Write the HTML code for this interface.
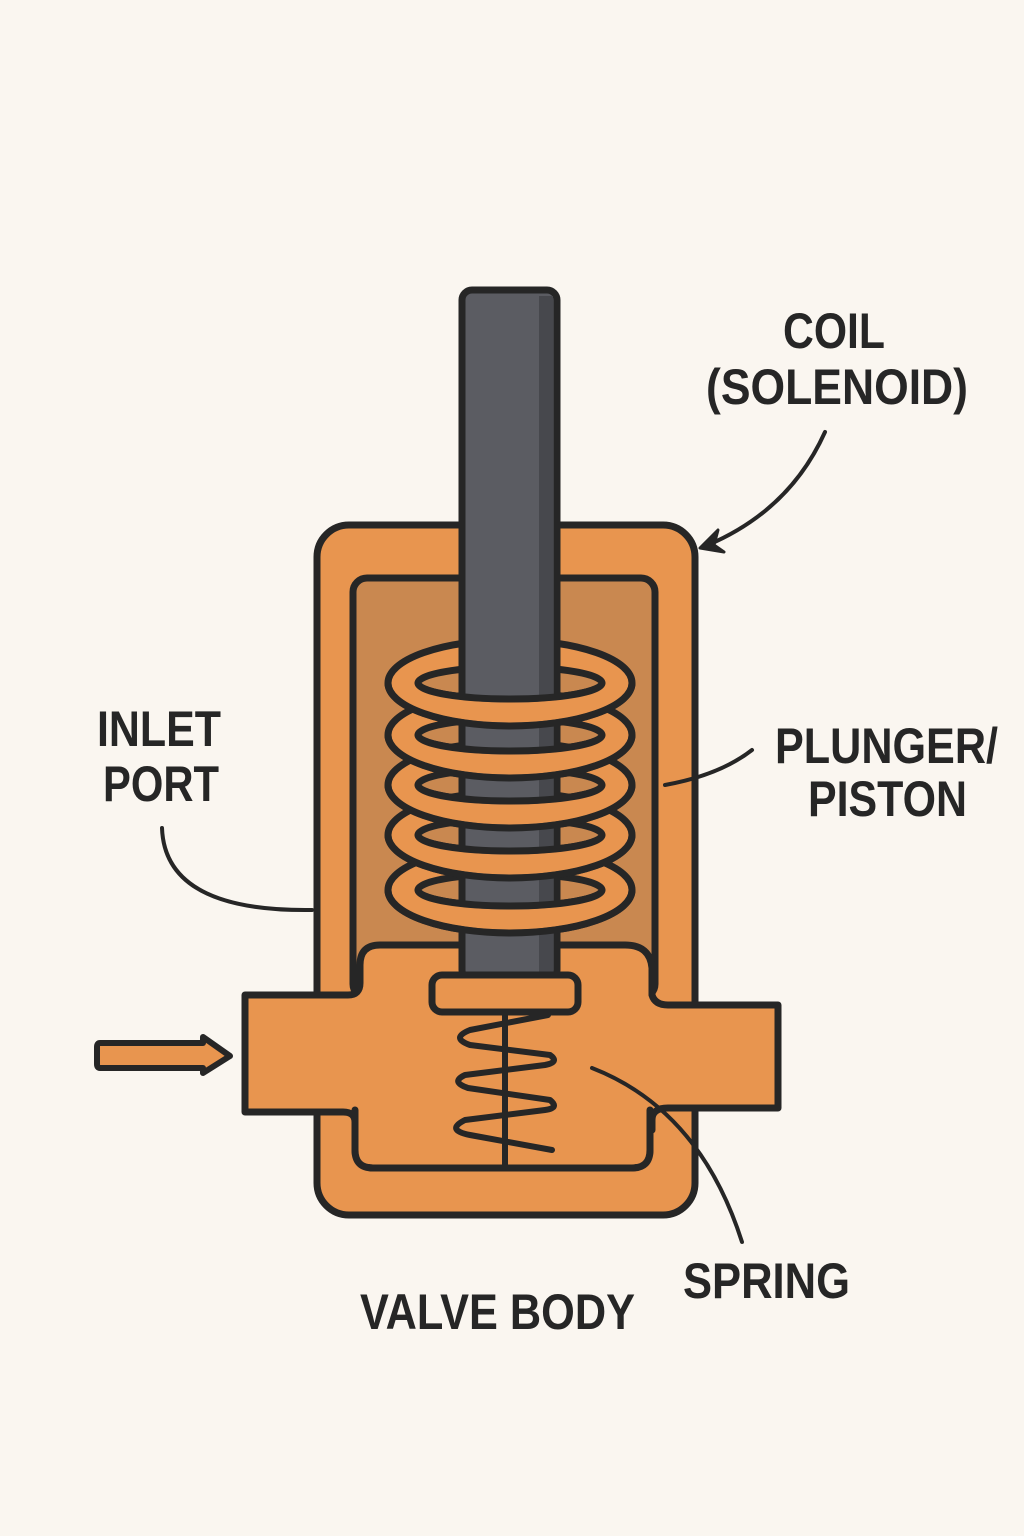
<!DOCTYPE html>
<html><head><meta charset="utf-8"><style>
html,body{margin:0;padding:0;background:#FAF6F0;}
svg{display:block;}
text{font-family:"Liberation Sans Narrow","Liberation Sans",sans-serif;font-weight:bold;fill:#262626;font-size:50px;}
</style></head><body>
<svg width="1024" height="1536" viewBox="0 0 1024 1536" xmlns="http://www.w3.org/2000/svg">
<rect width="1024" height="1536" fill="#FAF6F0"/>
<g stroke="#262626" stroke-width="7" stroke-linejoin="round" stroke-linecap="round">
<rect x="317" y="525" width="378" height="690" rx="32" fill="#E8954F"/>
<rect x="353" y="578" width="302" height="420" rx="14" fill="#C98850"/>
<rect x="355" y="1060" width="295" height="108" rx="18" fill="#E8954F"/>
<path d="M380 945 L625 945 Q650 945 652 968 L652 995 Q655 1005 668 1005 L778 1005 L778 1108 L668 1108 Q652 1108 652 1120 L652 1130 L355 1130 L355 1122 Q355 1112 343 1112 L245 1112 L245 995 L348 995 Q360 995 360 983 L360 965 Q360 945 380 945 Z" fill="#E8954F"/>
</g>
<rect x="357" y="1120" width="292" height="44" fill="#E8954F"/>
<g stroke="#262626" stroke-width="7" fill="none" stroke-linecap="round">
<path d="M355 1110 L355 1150 Q355 1168 373 1168 L632 1168 Q650 1168 650 1150 L650 1110"/>
</g>
<!-- coils back -->
<g stroke="#262626" stroke-width="7" fill-rule="evenodd">
<path fill="#E8954F" d="M388 890 a122 43 0 1 0 244 0 a122 43 0 1 0 -244 0 Z M418 890 a92 16 0 1 0 184 0 a92 16 0 1 0 -184 0 Z"/>
<path fill="#E8954F" d="M388 835 a122 43 0 1 0 244 0 a122 43 0 1 0 -244 0 Z M418 835 a92 16 0 1 0 184 0 a92 16 0 1 0 -184 0 Z"/>
<path fill="#E8954F" d="M388 785 a122 43 0 1 0 244 0 a122 43 0 1 0 -244 0 Z M418 785 a92 16 0 1 0 184 0 a92 16 0 1 0 -184 0 Z"/>
<path fill="#E8954F" d="M388 735 a122 43 0 1 0 244 0 a122 43 0 1 0 -244 0 Z M418 735 a92 16 0 1 0 184 0 a92 16 0 1 0 -184 0 Z"/>
<path fill="#E8954F" d="M388 683 a122 43 0 1 0 244 0 a122 43 0 1 0 -244 0 Z M418 683 a92 16 0 1 0 184 0 a92 16 0 1 0 -184 0 Z"/>
</g>
<rect x="462" y="290" width="95" height="690" rx="10" fill="#5B5C62" stroke="#262626" stroke-width="7"/>
<rect x="539" y="296" width="14" height="680" fill="#47484D"/>
<!-- coils front halves -->
<g fill="#E8954F" stroke="none">
<path d="M391.5 683 A118.5 39.5 0 0 0 628.5 683 L605.5 683 A95.5 19.5 0 0 1 414.5 683 Z"/>
<path d="M391.5 735 A118.5 39.5 0 0 0 628.5 735 L605.5 735 A95.5 19.5 0 0 1 414.5 735 Z"/>
<path d="M391.5 785 A118.5 39.5 0 0 0 628.5 785 L605.5 785 A95.5 19.5 0 0 1 414.5 785 Z"/>
<path d="M391.5 835 A118.5 39.5 0 0 0 628.5 835 L605.5 835 A95.5 19.5 0 0 1 414.5 835 Z"/>
<path d="M391.5 890 A118.5 39.5 0 0 0 628.5 890 L605.5 890 A95.5 19.5 0 0 1 414.5 890 Z"/>
</g>
<g fill="none" stroke="#262626" stroke-width="7">
<path d="M388 683 A122 43 0 0 0 632 683 M418 683 A92 16 0 0 0 602 683"/>
<path d="M388 735 A122 43 0 0 0 632 735 M418 735 A92 16 0 0 0 602 735"/>
<path d="M388 785 A122 43 0 0 0 632 785 M418 785 A92 16 0 0 0 602 785"/>
<path d="M388 835 A122 43 0 0 0 632 835 M418 835 A92 16 0 0 0 602 835"/>
<path d="M388 890 A122 43 0 0 0 632 890 M418 890 A92 16 0 0 0 602 890"/>
</g>
<rect x="432" y="975" width="146" height="37" rx="10" fill="#E8954F" stroke="#262626" stroke-width="7"/>
<g stroke="#262626" stroke-width="6" fill="none" stroke-linecap="round" stroke-linejoin="round">
<path d="M505 1015 L505 1165"/>
<path d="M548 1015 L470 1030 Q450 1038 470 1045 L550 1055 Q560 1062 545 1065 L465 1075 Q450 1082 468 1088 L550 1100 Q560 1108 545 1110 L465 1120 Q445 1130 470 1135 L552 1150"/>
</g>
<g stroke="#262626" stroke-width="4" fill="none" stroke-linecap="round">
<path d="M825 432 Q790 510 708 545"/>
<path d="M162 828 Q165 912 312 910"/>
<path d="M752 750 Q720 775 665 785"/>
<path d="M592 1068 Q700 1110 742 1242"/>
</g>
<path d="M700 548 L718 530 L714 545 L724 552 Z" fill="#262626" stroke="#262626" stroke-width="3" stroke-linejoin="round"/>
<path d="M100 1043 L203 1043 L203 1037 L230 1056 L203 1073 L203 1068 L100 1068 Q97 1068 97 1064 L97 1047 Q97 1043 100 1043 Z" fill="#E8954F" stroke="#262626" stroke-width="6" stroke-linejoin="round"/>
<text x="783" y="348" textLength="102" lengthAdjust="spacingAndGlyphs">COIL</text>
<text x="706" y="404" textLength="262" lengthAdjust="spacingAndGlyphs">(SOLENOID)</text>
<text x="97" y="746" textLength="124" lengthAdjust="spacingAndGlyphs">INLET</text>
<text x="103" y="801" textLength="116" lengthAdjust="spacingAndGlyphs">PORT</text>
<text x="775" y="763" textLength="223" lengthAdjust="spacingAndGlyphs">PLUNGER/</text>
<text x="808" y="816" textLength="159" lengthAdjust="spacingAndGlyphs">PISTON</text>
<text x="683" y="1298" textLength="167" lengthAdjust="spacingAndGlyphs">SPRING</text>
<text x="360" y="1329" textLength="275" lengthAdjust="spacingAndGlyphs">VALVE BODY</text>
</svg>
</body></html>
